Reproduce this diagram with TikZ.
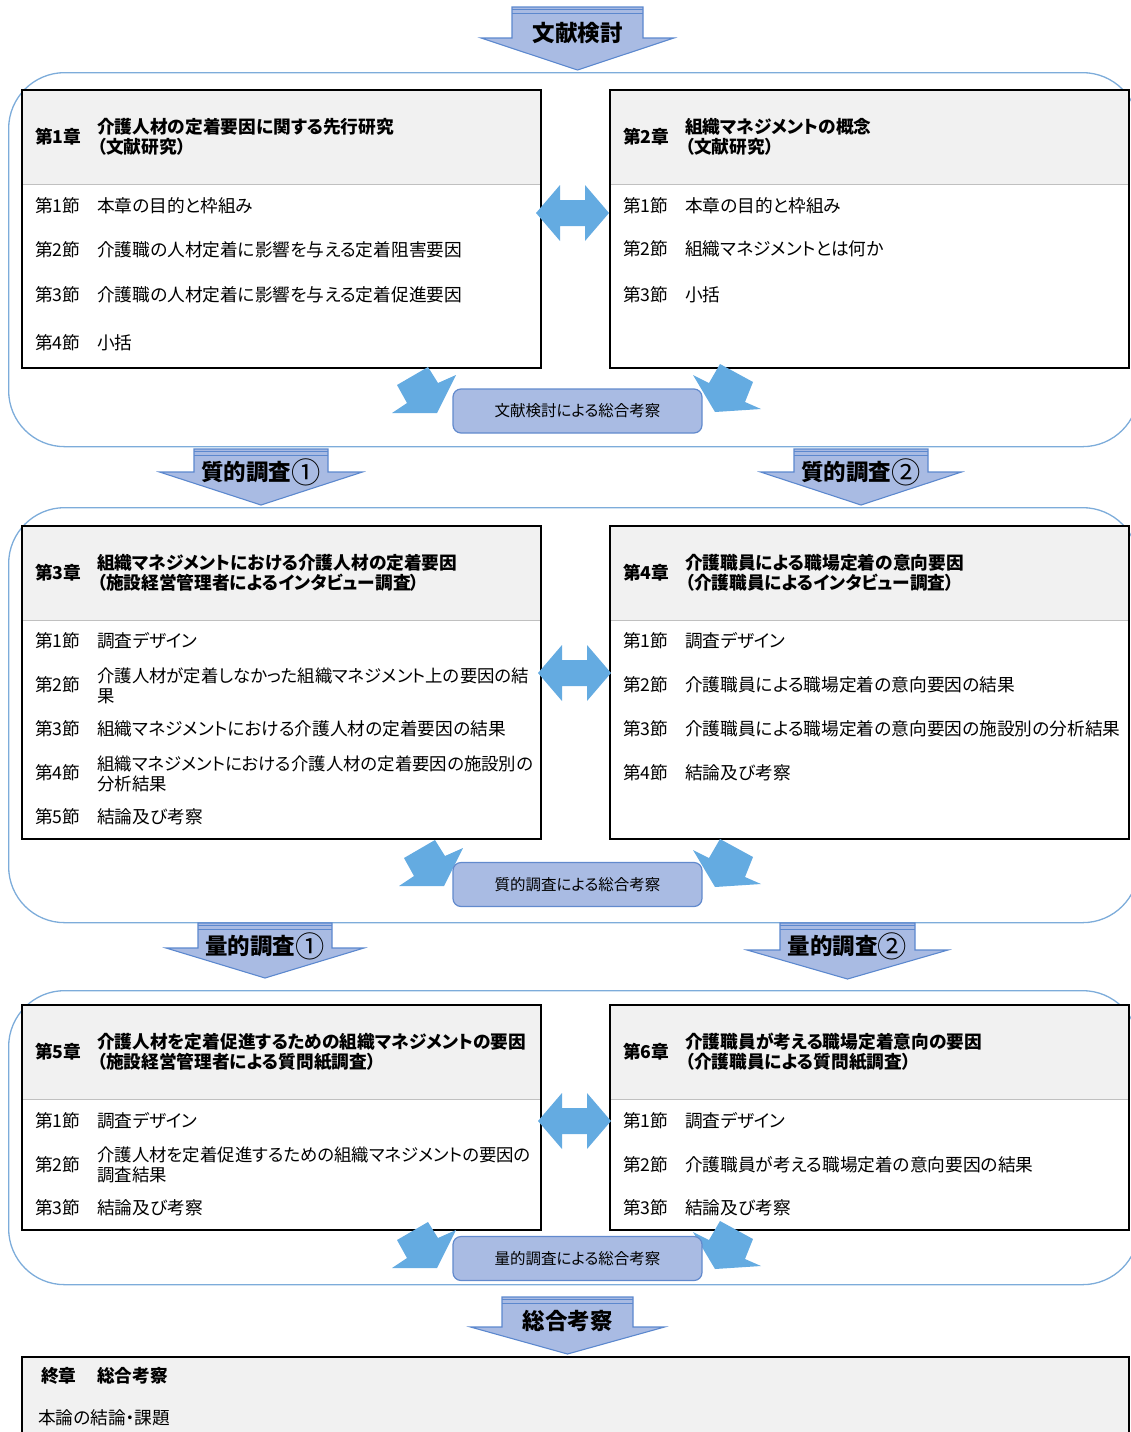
\documentclass[tikz,border=0pt]{standalone}
\usepackage{fontspec}
\setmainfont{Noto Sans CJK JP}[RawFeature=+palt]
\newfontfamily\flowfont{Noto Sans CJK JP}
\definecolor{framec}{RGB}{125,172,218}
\definecolor{hdrfill}{RGB}{241,241,241}
\definecolor{sepc}{RGB}{192,192,192}
\definecolor{sumfill}{RGB}{169,187,227}
\definecolor{sumline}{RGB}{98,138,205}
\definecolor{flowfill}{RGB}{169,187,227}
\definecolor{flowline}{RGB}{92,136,206}
\definecolor{blkc}{RGB}{100,171,225}

\tikzset{
  frame/.style={draw=framec, line width=1.3pt, rounded corners=56pt, anchor=north west, inner sep=0pt},
  chap/.style={draw=black, line width=2pt, anchor=north west, inner sep=0pt},
  sepline/.style={draw=sepc, line width=1pt},
  item/.style={anchor=west, inner sep=0pt, align=left, font=\fontsize{17.7}{20}\selectfont},
  longitem/.style={item, font=\fontsize{17.4}{20}\selectfont},
  hd/.style={anchor=west, inner sep=0pt, align=left, font=\bfseries\fontsize{17.7}{20}\selectfont},
  sumbox/.style={draw=sumline, fill=sumfill, line width=1.2pt, rounded corners=8pt,
    minimum width=249pt, minimum height=44pt, inner sep=0pt, font=\fontsize{15.5}{16}\selectfont},
  bigarrow/.style={fill=flowfill, draw=flowline, line width=1.1pt, line join=miter},
  stripe/.style={draw=flowline, line width=0.8pt},
  flowtxt/.style={inner sep=0pt, font=\flowfont\bfseries\fontsize{22.5}{24}\selectfont},
  blk/.style={fill=blkc},
  % block arrows pointing towards the summary boxes
  toright/.pic={\fill[blk] (428,367) -- (438,383) -- (456,375) -- (437,413) -- (392,413) -- (407,403) -- (397,385) -- cycle;},
  toleft/.pic={\fill[blk] (720,364) -- (753,382) -- (745,402) -- (761,409) -- (715,412) -- (693,375) -- (709,383) -- cycle;},
  % two-headed block arrow between neighbouring chapters
  both/.pic={\fill[blk] (-36.5,0) -- (-12.5,-28) -- (-12.5,-13) -- (12.5,-13) -- (12.5,-28) -- (36.5,0)
      -- (12.5,28) -- (12.5,13) -- (-12.5,13) -- (-12.5,28) -- cycle;}
}

% larger, lighter circled numbers for the flow labels
\newcommand\bignum[1]{\raisebox{-0.12em}{\scalebox{1.3}{\mdseries #1}}}

% chapter box: name, x, y, width, height, header height
\newcommand\chapbox[6]{%
  \fill[hdrfill] (#2,#3) rectangle ++(#4,#6);
  \draw[sepline] (#2,#3+#6) -- ++(#4,0);
  \node[chap, minimum width=#4pt, minimum height=#5pt] (#1) at (#2,#3) {};
}

% downward flow arrow: name, cx, top, half shaft, wing y, half wing, tip y, label, label y
\newcommand\flowdown[9]{%
  \filldraw[bigarrow] ({#2-#4},#3) -- ({#2+#4},#3) -- ({#2+#4},#5) -- ({#2+#6},#5)
     -- (#2,#7) -- ({#2-#6},#5) -- ({#2-#4},#5) -- cycle;
  \draw[stripe] ({#2-#4},#3+2.5) -- ({#2+#4},#3+2.5);
  \draw[stripe] ({#2-#4},#3+6) -- ({#2+#4},#3+6);
  \node[flowtxt] (#1) at (#2,#9) {#8};
}

\begin{document}
\begin{tikzpicture}[x=1pt,y=-1pt]
\useasboundingbox (0,0) rectangle (1131,1432);
\clip (0,0) rectangle (1131,1432);

% ---------- rounded group frames ----------
\node[frame, minimum width=1130pt, minimum height=374pt] (f1) at (8,72) {};
\node[frame, minimum width=1130pt, minimum height=415pt] (f2) at (8,507) {};
\node[frame, minimum width=1130pt, minimum height=294pt] (f3) at (8,990) {};

% ---------- flow arrows ----------
\flowdown{a0}{577.5}{7}{65.5}{38}{96.5}{70}{文献検討}{33}
\flowdown{a1}{261}{449}{67}{472}{101.5}{505}{質的調査\bignum{①}}{472}
\flowdown{a2}{861}{449}{67}{472}{100.5}{505}{質的調査\bignum{②}}{472}
\flowdown{a3}{265}{923}{67}{948}{99}{978}{量的調査\bignum{①}}{946}
\flowdown{a4}{847.5}{923}{67.5}{950}{100.5}{979}{量的調査\bignum{②}}{946}
\flowdown{a5}{567.5}{1297}{65.5}{1327}{97}{1354}{総合考察}{1321}

% ---------- literature review ----------
\chapbox{c1}{21}{89}{519}{278}{95}
\chapbox{c2}{609}{89}{519}{278}{95}

\node[hd] (c1n) at (35,137) {第1章};
\node[hd] (c1t) at (97,137) {介護人材の定着要因に関する先行研究\\（文献研究）};
\node[item] (c1a) at (35,206) {第1節};
\node[item] (c1ax) at (97,206) {本章の目的と枠組み};
\node[item] (c1b) at (35,250) {第2節};
\node[item] (c1bx) at (97,250) {介護職の人材定着に影響を与える定着阻害要因};
\node[item] (c1c) at (35,295) {第3節};
\node[item] (c1cx) at (97,295) {介護職の人材定着に影響を与える定着促進要因};
\node[item] (c1d) at (35,343) {第4節};
\node[item] (c1dx) at (97,343) {小括};

\node[hd] (c2n) at (623,137) {第2章};
\node[hd] (c2t) at (685,137) {組織マネジメントの概念\\（文献研究）};
\node[item] (c2a) at (623,206) {第1節};
\node[item] (c2ax) at (685,206) {本章の目的と枠組み};
\node[item] (c2b) at (623,249) {第2節};
\node[item] (c2bx) at (685,249) {組織マネジメントとは何か};
\node[item] (c2c) at (623,295) {第3節};
\node[item] (c2cx) at (685,295) {小括};

\pic at (572.5,213) {both};
\pic at (0,0) {toright};
\pic at (0,0) {toleft};
\node[sumbox] (s1) at (577.5,411) {文献検討による総合考察};

% ---------- qualitative studies ----------
\chapbox{c3}{21}{525}{519}{313}{95}
\chapbox{c4}{609}{525}{519}{313}{95}

\node[hd] (c3n) at (35,573) {第3章};
\node[hd] (c3t) at (97,573) {組織マネジメントにおける介護人材の定着要因\\（施設経営管理者によるインタビュー調査）};
\node[item] (c3a) at (35,641) {第1節};
\node[item] (c3ax) at (97,641) {調査デザイン};
\node[item] (c3b) at (35,685) {第2節};
\node[longitem] (c3bx) at (97,686) {介護人材が定着しなかった組織マネジメント上の要因の結\\果};
\node[item] (c3c) at (35,729) {第3節};
\node[item] (c3cx) at (97,729) {組織マネジメントにおける介護人材の定着要因の結果};
\node[item] (c3d) at (35,773) {第4節};
\node[longitem] (c3dx) at (97,774) {組織マネジメントにおける介護人材の定着要因の施設別の\\分析結果};
\node[item] (c3e) at (35,817) {第5節};
\node[item] (c3ex) at (97,817) {結論及び考察};

\node[hd] (c4n) at (623,573) {第4章};
\node[hd] (c4t) at (685,573) {介護職員による職場定着の意向要因\\（介護職員によるインタビュー調査）};
\node[item] (c4a) at (623,641) {第1節};
\node[item] (c4ax) at (685,641) {調査デザイン};
\node[item] (c4b) at (623,685) {第2節};
\node[item] (c4bx) at (685,685) {介護職員による職場定着の意向要因の結果};
\node[item] (c4c) at (623,729) {第3節};
\node[item] (c4cx) at (685,729) {介護職員による職場定着の意向要因の施設別の分析結果};
\node[item] (c4d) at (623,773) {第4節};
\node[item] (c4dx) at (685,773) {結論及び考察};

\pic at (574.5,673) {both};
\pic at (7,473) {toright};
\pic at (0,475) {toleft};
\node[sumbox] (s2) at (577.5,884.5) {質的調査による総合考察};

% ---------- quantitative studies ----------
\chapbox{c5}{21}{1004}{519}{225}{95}
\chapbox{c6}{609}{1004}{519}{225}{95}

\node[hd] (c5n) at (35,1052) {第5章};
\node[hd] (c5t) at (97,1052) {介護人材を定着促進するための組織マネジメントの要因\\（施設経営管理者による質問紙調査）};
\node[item] (c5a) at (35,1121) {第1節};
\node[item] (c5ax) at (97,1121) {調査デザイン};
\node[item] (c5b) at (35,1165) {第2節};
\node[longitem] (c5bx) at (97,1165) {介護人材を定着促進するための組織マネジメントの要因の\\調査結果};
\node[item] (c5c) at (35,1208) {第3節};
\node[item] (c5cx) at (97,1208) {結論及び考察};

\node[hd] (c6n) at (623,1052) {第6章};
\node[hd] (c6t) at (685,1052) {介護職員が考える職場定着意向の要因\\（介護職員による質問紙調査）};
\node[item] (c6a) at (623,1121) {第1節};
\node[item] (c6ax) at (685,1121) {調査デザイン};
\node[item] (c6b) at (623,1165) {第2節};
\node[item] (c6bx) at (685,1165) {介護職員が考える職場定着の意向要因の結果};
\node[item] (c6c) at (623,1208) {第3節};
\node[item] (c6cx) at (685,1208) {結論及び考察};

\pic at (574.5,1121) {both};
\pic at (0,855) {toright};
\pic at (0,857) {toleft};
\node[sumbox] (s3) at (577.5,1258.5) {量的調査による総合考察};

% ---------- final chapter ----------
\fill[hdrfill] (21,1356) rectangle (1128,1460);
\node[chap, minimum width=1107pt, minimum height=104pt] (c7) at (21,1356) {};
\node[hd] (c7n) at (41,1376) {終章};
\node[hd] (c7t) at (97,1376) {総合考察};
\node[item] (c7a) at (38,1418) {本論の結論・課題};
\end{tikzpicture}
\end{document}
